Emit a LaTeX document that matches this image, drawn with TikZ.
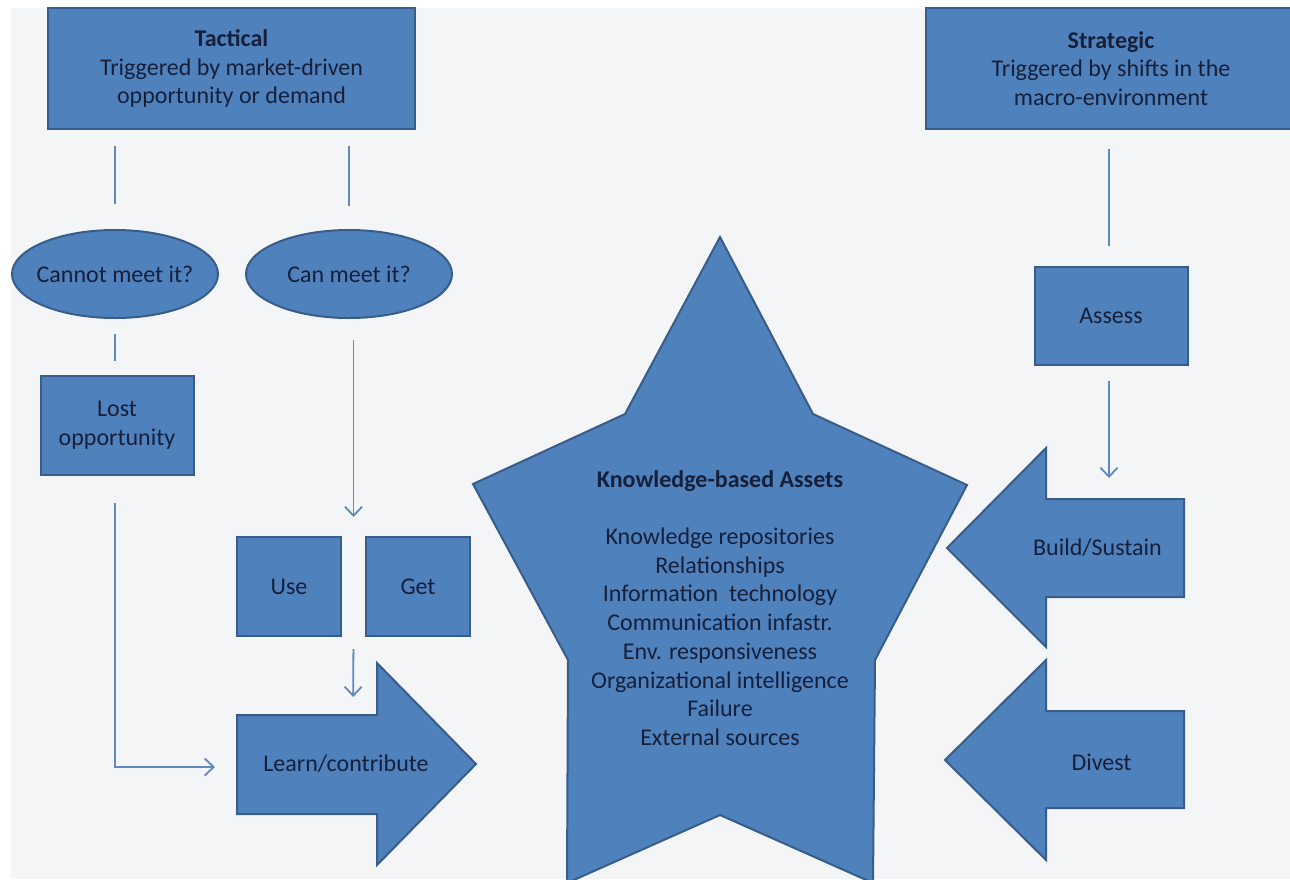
\documentclass[tikz,border=0pt]{standalone}
\usepackage{fontspec}
\setmainfont{Carlito}
\usetikzlibrary{positioning,arrows.meta,calc,shapes.geometric}
\definecolor{boxblue}{HTML}{4F81BD}
\definecolor{boxline}{HTML}{385D8A}
\definecolor{linkblue}{HTML}{5F88BE}
\definecolor{inktext}{HTML}{16203A}
\definecolor{paper}{HTML}{F4F5F6}
\tikzset{
  block/.style={fill=boxblue, draw=boxline, line width=2pt},
  txt/.style={inner sep=0pt, align=center, text=inktext,
    font=\fontsize{24}{28.7}\selectfont},
  box/.style={block, txt, rectangle},
  oval/.style={block, txt, ellipse, minimum width=206pt, minimum height=88pt},
  link/.style={draw=linkblue, line width=1.8pt},
  flow/.style={link, -{Straight Barb[length=9pt,width=17pt]}}
}

\begin{document}
\begin{tikzpicture}[x=1pt,y=-1pt]
        \clip (0,0) rectangle (1290,879);
        \fill[paper] (11,8) rectangle (1290,879);

        % tactical side
        \node [box, minimum width=367pt, minimum height=121pt] (tact) at (231.5,68.5)
          {\textbf{Tactical}\\Triggered by market-driven\\opportunity or demand};
        \node [oval, on grid, below left=205.5pt and 116.5pt of tact] (cannot) {\makebox[0pt]{Cannot meet it?}};
        \node [oval, on grid, right=234pt of cannot] (can) {\makebox[0pt]{Can meet it?}};
        \node [box, on grid, below right=151.5pt and 2pt of cannot, minimum width=153pt, minimum height=99pt] (lost) {Lost\\opportunity};
        \node [box, on grid, below left=312.5pt and 60pt of can, minimum width=104pt, minimum height=99pt] (use) {Use};
        \node [box, on grid, right=129pt of use, minimum width=104pt, minimum height=99pt] (get) {Get};

        \draw[block] (237,715) -- (377,715) -- (377,663) -- (476,764) -- (377,865) -- (377,814) -- (237,814) -- cycle;
        \node [txt, on grid, below right=177.5pt and 57pt of use] (learn) {Learn/contribute};
        \coordinate (learnW) at (237,767);
        \coordinate (learnN) at (353,715);

        % strategic side
        \node [box, on grid, right=879.5pt of tact, minimum width=370pt, minimum height=121pt] (strat)
          {\textbf{Strategic}\\Triggered by shifts in the\\macro-environment};
        \node [box, on grid, below=247.5pt of strat, minimum width=153pt, minimum height=98pt] (assess) {Assess};

        \draw[block] (1184,499) -- (1046,499) -- (1046,448) -- (947,548) -- (1046,647) -- (1046,597) -- (1184,597) -- cycle;
        \draw[block] (1184,711) -- (1046,711) -- (1046,660) -- (945,760) -- (1046,860) -- (1046,808) -- (1184,808) -- cycle;
        \node [txt, on grid, below left=232pt and 13.5pt of assess] (build) {Build/Sustain};
        \node [txt, on grid, below right=214pt and 4pt of build] (divest) {Divest};
        \coordinate (buildN) at (1109,499);

        % assets
        \draw[block] (720,237) -- (813,414) -- (967,485) -- (875,660) -- (873,883) -- (720,815)
          -- (567,883) -- (568,660) -- (473,484) -- (625,414) -- cycle;
        \node [txt] (assets) at (720,608)
          {\textbf{Knowledge-based Assets}\\[28.7pt]Knowledge repositories\\Relationships\\Information\ \ technology\\
           Communication infastr.\\Env. responsiveness\\Organizational intelligence\\Failure\\External sources};

        \coordinate (ug) at ($(use.north east)!.5!(get.north west)$);
        \draw[link, shorten <=16pt, shorten >=25pt] (tact.south -| cannot) -- (cannot.north);
        \draw[link, shorten <=16pt, shorten >=23pt] (tact.south -| can) -- (can.north);
        \draw[link, shorten <=15pt, shorten >=14pt] (cannot.south) -- (cannot.south |- lost.north);
        \draw[flow, shorten <=21pt, shorten >=19pt] (can.south -| ug) -- (ug);
        \draw[flow, shorten <=12pt, shorten >=18pt] (ug |- use.south) -- (learnN);
        \draw[flow, shorten <=27pt, shorten >=22pt] (cannot.south |- lost.south) |- (learnW);
        \draw[link, shorten <=19pt, shorten >=20pt] (strat.south -| buildN) -- (assess.north -| buildN);
        \draw[flow, shorten <=15pt, shorten >=21pt] (assess.south -| buildN) -- (buildN);
      \end{tikzpicture}
\end{document}
